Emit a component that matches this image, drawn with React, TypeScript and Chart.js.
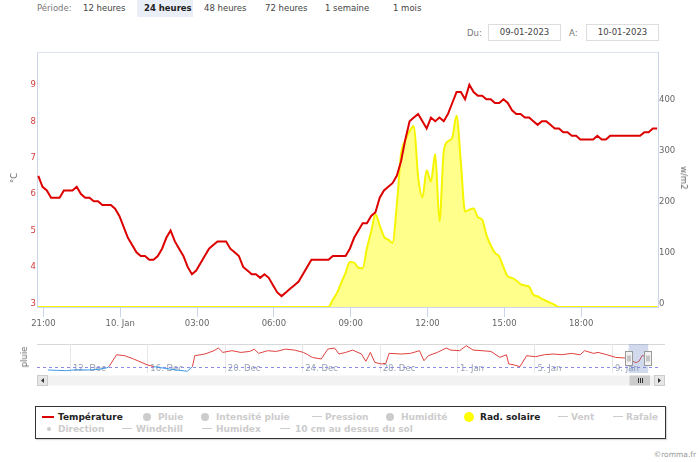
import React, { useEffect, useRef } from 'react';
import { Chart, registerables } from 'chart.js';
Chart.register(...registerables);

// ---- main chart data: 10-minute readings, hours relative to 10 Jan 00:00 ----
const START_HOUR = -3.2;
const STEP_HOURS = 1 / 6;
const TEMPERATURE = [
  6.6, 6.3, 6.2, 6.0, 6.0, 6.0, 6.2, 6.2, 6.2, 6.3,
  6.1, 6.0, 6.0, 5.9, 5.9, 5.8, 5.8, 5.8, 5.7, 5.5,
  5.2, 4.9, 4.7, 4.5, 4.4, 4.4, 4.3, 4.3, 4.4, 4.6,
  4.9, 5.1, 4.8, 4.6, 4.4, 4.1, 3.9, 4.0, 4.2, 4.4,
  4.6, 4.7, 4.8, 4.8, 4.8, 4.6, 4.5, 4.4, 4.1, 4.0,
  3.9, 3.9, 3.8, 3.9, 3.8, 3.6, 3.4, 3.3, 3.4, 3.5,
  3.6, 3.7, 3.9, 4.1, 4.3, 4.3, 4.3, 4.3, 4.3, 4.4,
  4.4, 4.4, 4.4, 4.6, 4.9, 5.1, 5.3, 5.3, 5.5, 5.6,
  6.0, 6.2, 6.3, 6.4, 6.6, 7.0, 7.6, 8.1, 8.2, 8.3,
  8.1, 7.9, 8.2, 8.1, 8.2, 8.1, 8.3, 8.6, 8.9, 8.9,
  8.7, 9.1, 8.9, 8.8, 8.8, 8.7, 8.7, 8.6, 8.6, 8.7,
  8.6, 8.4, 8.3, 8.3, 8.2, 8.2, 8.1, 8.0, 8.1, 8.1,
  8.0, 7.9, 7.9, 7.8, 7.8, 7.7, 7.7, 7.6, 7.6, 7.6,
  7.6, 7.7, 7.6, 7.6, 7.7, 7.7, 7.7, 7.7, 7.7, 7.7,
  7.7, 7.7, 7.8, 7.8, 7.9, 7.9,
];
const RADIATION = [
  0, 0, 0, 0, 0, 0, 0, 0, 0, 0,
  0, 0, 0, 0, 0, 0, 0, 0, 0, 0,
  0, 0, 0, 0, 0, 0, 0, 0, 0, 0,
  0, 0, 0, 0, 0, 0, 0, 0, 0, 0,
  0, 0, 0, 0, 0, 0, 0, 0, 0, 0,
  0, 0, 0, 0, 0, 0, 0, 0, 0, 0,
  0, 0, 0, 0, 0, 0, 0, 0, 0, 14,
  28, 48, 67, 88, 87, 77, 76, 115, 148, 182,
  160, 138, 132, 126, 200, 300, 327, 345, 355, 255,
  215, 268, 246, 300, 168, 305, 325, 332, 375, 285,
  187, 191, 193, 176, 171, 141, 121, 106, 99, 78,
  60, 57, 52, 45, 42, 40, 24, 21, 16, 12,
  8, 4, 0, 0, 0, 0, 0, 0, 0, 0,
  0, 0, 0, 0, 0, 0, 0, 0, 0, 0,
  0, 0, 0, 0, 0, 0,
];
const X_MIN = -3.25;
const X_MAX = 21;
const X_TICKS = [-3, 0, 3, 6, 9, 12, 15, 18];
const X_TICK_LABELS = ['21:00', '10. Jan', '03:00', '06:00', '09:00', '12:00', '15:00', '18:00'];
const TEMP_TICKS = [3, 4, 5, 6, 7, 8, 9];
const RAD_TICKS = [0, 100, 200, 300, 400];

// ---- navigator data: days since 10 Dec 00:00 ----
const NAV_DAYS = [
  0.86, 1.3, 1.83, 2.3, 2.98, 3.5, 3.9, 4.02, 4.41, 4.83, 5.29, 5.98, 6.33, 7.14, 8.06, 8.33,
  8.45, 8.98, 9.44, 9.67, 9.9, 10.37, 10.83, 11.29, 11.52, 11.75, 12.21, 12.67, 13.13, 13.6,
  14.06, 14.29, 14.52, 14.98, 15.32, 15.67, 15.9, 16.25, 16.6, 17.06, 17.29, 17.52, 17.75,
  18.09, 18.32, 18.49, 19.13, 19.59, 20.06, 20.29, 20.52, 20.98, 21.44, 21.67, 22.13, 22.48,
  22.83, 23.29, 23.75, 24.21, 24.55, 24.67, 24.9, 25.25, 25.59, 26.05, 26.51, 26.97, 27.43,
  27.9, 28.36, 28.59, 29.05, 29.28, 29.74, 30.2, 30.67, 30.88, 31.05, 31.25, 31.4, 31.56, 31.87,
];
const NAV_TEMPS = [
  -2.7, -3.0, -3.3, -2.5, -2.7, -2.2, -1.0, 0, 9.8, 9.0, 6.3, 1.6, 0, -1.9, -3.8, 0,
  9.0, 10.4, 13.1, 15.3, 11.7, 13.1, 11.7, 12.5, 14.4, 10.9, 13.1, 12.5, 14.4, 13.6,
  11.7, 9.8, 7.6, 6.3, 14.4, 15.3, 10.4, 11.7, 13.6, 10.4, 4.4, 11.7, 3.5,
  2.2, 2.7, 10.9, 10.4, 10.9, 13.1, 4.9, 9.0, 11.7, 15.3, 13.6, 13.1, 17.2,
  13.6, 13.1, 12.5, 7.6, 9.8, 2.2, 1.6, 0, 9.0, 8.2, 9.8, 10.4, 9.8,
  10.9, 9.8, 13.1, 10.9, 11.7, 9.8, 7.6, 7.1, 6.5, 4.5, 3.3, 4.5, 9.1, 7.9,
];
const NAV_MIN = 0.3;
const NAV_MAX = 32.38;
const NAV_SEL_START = 30.865;
const NAV_SEL_END = 31.875;
const NAV_TICK_DAYS = [2, 6, 10, 14, 18, 22, 26, 30];
const NAV_TICK_LABELS = ['12. Dec', '16. Dec', '20. Dec', '24. Dec', '28. Dec', '1. Jan', '5. Jan', '9. Jan'];

// ---- page texts ----
const PERIODS = ['12 heures', '24 heures', '48 heures', '72 heures', '1 semaine', '1 mois'];
const PERIOD_LEFT = [83, 144, 204, 265, 325, 393];
const ACTIVE_PERIOD = 1;
const DATE_FROM = '09-01-2023';
const DATE_TO = '10-01-2023';

type LegendItem = { label: string; sym: 'line' | 'circle' | 'dot'; color: string; active: boolean; symX: number; textX: number; row: number };
const LEGEND: LegendItem[] = [
  { label: 'Température', sym: 'line', color: '#dd0000', active: true, symX: 42, textX: 58, row: 0 },
  { label: 'Pluie', sym: 'circle', color: '#cccccc', active: false, symX: 147, textX: 158, row: 0 },
  { label: 'Intensité pluie', sym: 'circle', color: '#cccccc', active: false, symX: 205, textX: 216, row: 0 },
  { label: 'Pression', sym: 'line', color: '#cccccc', active: false, symX: 312, textX: 325, row: 0 },
  { label: 'Humidité', sym: 'circle', color: '#cccccc', active: false, symX: 390, textX: 401, row: 0 },
  { label: 'Rad. solaire', sym: 'circle', color: '#ffff00', active: true, symX: 469, textX: 480, row: 0 },
  { label: 'Vent', sym: 'line', color: '#cccccc', active: false, symX: 558, textX: 571, row: 0 },
  { label: 'Rafale', sym: 'line', color: '#cccccc', active: false, symX: 613, textX: 626, row: 0 },
  { label: 'Direction', sym: 'dot', color: '#cccccc', active: false, symX: 49, textX: 58, row: 1 },
  { label: 'Windchill', sym: 'line', color: '#cccccc', active: false, symX: 122, textX: 136, row: 1 },
  { label: 'Humidex', sym: 'line', color: '#cccccc', active: false, symX: 202, textX: 216, row: 1 },
  { label: '10 cm au dessus du sol', sym: 'line', color: '#cccccc', active: false, symX: 280, textX: 295, row: 1 },
];

const FONT = '"DejaVu Sans", Verdana, sans-serif';

export default function App() {
  const mainRef = useRef<HTMLCanvasElement>(null);
  const navRef = useRef<HTMLCanvasElement>(null);

  useEffect(() => {
    const tempData = TEMPERATURE.map((v, i) => ({ x: START_HOUR + i * STEP_HOURS, y: v }));
    const radData = RADIATION.map((v, i) => ({ x: START_HOUR + i * STEP_HOURS, y: v }));
    const axisColor = '#ccd6eb';
    const tickFont = { family: FONT, size: 8.5 };

    const frame = {
      id: 'frame',
      afterDraw(chart: any) {
        const { ctx, chartArea: a } = chart;
        ctx.save();
        ctx.strokeStyle = '#dde3ea';
        ctx.lineWidth = 1;
        ctx.beginPath();
        ctx.moveTo(a.left, a.top + 0.5);
        ctx.lineTo(a.right, a.top + 0.5);
        ctx.stroke();
        ctx.restore();
      },
    };

    const main = new Chart(mainRef.current!, {
      type: 'line',
      data: {
        datasets: [
          {
            label: 'Température', data: tempData, yAxisID: 'y', borderColor: '#dd0000', borderWidth: 2,
            pointRadius: 0, tension: 0, fill: false,
          },
          {
            label: 'Rad. solaire', data: radData, yAxisID: 'y2', borderColor: '#f5f500',
            backgroundColor: 'rgba(255,255,0,0.45)', borderWidth: 2, pointRadius: 0,
            fill: 'origin', cubicInterpolationMode: 'monotone',
          },
        ] as any,
      },
      options: {
        animation: false, responsive: false, events: [],
        layout: { padding: { top: 52, left: 0, right: 0, bottom: 0 } },
        plugins: { legend: { display: false }, tooltip: { enabled: false } },
        scales: {
          x: {
            type: 'linear', min: X_MIN, max: X_MAX,
            afterBuildTicks: (s: any) => { s.ticks = X_TICKS.map((v) => ({ value: v })); },
            afterFit: (s: any) => { s.height = 33; },
            grid: { drawOnChartArea: false, drawTicks: true, tickLength: 10, color: axisColor },
            border: { color: axisColor },
            ticks: {
              autoSkip: false, maxRotation: 0, padding: 2, color: '#666', font: tickFont,
              callback: (v: any) => { const k = X_TICKS.indexOf(Number(v)); return k >= 0 ? X_TICK_LABELS[k] : ''; },
            },
          },
          y: {
            position: 'left', min: 3, max: 10,
            afterBuildTicks: (s: any) => { s.ticks = TEMP_TICKS.map((v) => ({ value: v })); },
            afterFit: (s: any) => { s.width = 37; },
            grid: { display: false, drawTicks: false },
            border: { display: true, color: axisColor },
            ticks: { color: '#d23c3c', padding: 1, labelOffset: -3.5, font: tickFont },
          },
          y2: {
            position: 'right', min: 0, max: 500,
            afterBuildTicks: (s: any) => { s.ticks = RAD_TICKS.map((v) => ({ value: v })); },
            afterFit: (s: any) => { s.width = 42; },
            grid: { display: false, drawTicks: false },
            border: { display: true, color: axisColor },
            ticks: { color: '#666', padding: 1, labelOffset: -3.5, font: tickFont },
          },
        },
      } as any,
      plugins: [frame],
    });

    const navDecor = {
      id: 'navDecor',
      beforeDatasetsDraw(chart: any) {
        const { ctx, chartArea: a, scales } = chart;
        ctx.save();
        ctx.strokeStyle = '#d8d8d8';
        ctx.lineWidth = 1;
        ctx.beginPath();
        ctx.moveTo(37, a.top + 0.5);
        ctx.lineTo(665, a.top + 0.5);
        ctx.stroke();
        ctx.strokeStyle = '#e6e6e6';
        NAV_TICK_DAYS.forEach((d) => {
          const px = Math.round(scales.x.getPixelForValue(d)) + 0.5;
          ctx.beginPath();
          ctx.moveTo(px, a.top);
          ctx.lineTo(px, a.bottom);
          ctx.stroke();
        });
        ctx.fillStyle = '#99a3b3';
        ctx.font = `8.5px ${FONT}`;
        ctx.textBaseline = 'middle';
        NAV_TICK_DAYS.forEach((d, i) => {
          const px = scales.x.getPixelForValue(d);
          ctx.fillText(NAV_TICK_LABELS[i], px + 3, a.top + 25);
        });
        const y0 = Math.round(scales.y.getPixelForValue(0)) + 0.5;
        ctx.strokeStyle = '#8c8ce6';
        ctx.setLineDash([3, 3]);
        ctx.beginPath();
        ctx.moveTo(a.left, y0);
        ctx.lineTo(a.right, y0);
        ctx.stroke();
        ctx.restore();
      },
      afterDatasetsDraw(chart: any) {
        const { ctx, chartArea: a, scales } = chart;
        const xs = scales.x.getPixelForValue(NAV_SEL_START);
        const xe = scales.x.getPixelForValue(NAV_SEL_END);
        ctx.save();
        ctx.fillStyle = 'rgba(102,133,194,0.3)';
        ctx.fillRect(xs, a.top, xe - xs, a.bottom - a.top);
        const mid = (a.top + a.bottom) / 2;
        [xs, xe].forEach((px) => {
          const hx = Math.round(px) - 3.5;
          ctx.fillStyle = '#f2f2f2';
          ctx.strokeStyle = '#999999';
          ctx.lineWidth = 1;
          ctx.fillRect(hx, mid - 7, 7, 14);
          ctx.strokeRect(hx, mid - 7, 7, 14);
          ctx.beginPath();
          ctx.moveTo(hx + 2.5, mid - 3);
          ctx.lineTo(hx + 2.5, mid + 3);
          ctx.moveTo(hx + 4.5, mid - 3);
          ctx.lineTo(hx + 4.5, mid + 3);
          ctx.stroke();
        });
        // scrollbar
        const sy = 35.5;
        const sh = 10;
        ctx.fillStyle = '#f2f2f2';
        ctx.fillRect(37, sy, 628, sh);
        ctx.fillStyle = '#e6e6e6';
        ctx.strokeStyle = '#cccccc';
        ctx.fillRect(37.5, sy, 10, sh);
        ctx.strokeRect(37.5, sy, 10, sh);
        ctx.fillRect(654.5, sy, 10, sh);
        ctx.strokeRect(654.5, sy, 10, sh);
        ctx.fillStyle = '#333';
        ctx.beginPath();
        ctx.moveTo(44, sy + 2.5); ctx.lineTo(44, sy + 7.5); ctx.lineTo(41, sy + 5); ctx.closePath(); ctx.fill();
        ctx.beginPath();
        ctx.moveTo(658, sy + 2.5); ctx.lineTo(658, sy + 7.5); ctx.lineTo(661, sy + 5); ctx.closePath(); ctx.fill();
        const tx = Math.round(xs) + 0.5;
        const tw = Math.min(Math.round(xe) + 2, 654) - tx;
        ctx.fillStyle = '#cccccc';
        ctx.fillRect(tx, sy, tw, sh);
        ctx.strokeStyle = '#333';
        const cx = Math.round(tx + tw / 2) + 0.5;
        ctx.beginPath();
        [-2, 0, 2].forEach((o) => { ctx.moveTo(cx + o, sy + 2.5); ctx.lineTo(cx + o, sy + 7.5); });
        ctx.stroke();
        ctx.restore();
      },
    };

    const nav = new Chart(navRef.current!, {
      type: 'line',
      data: {
        datasets: [
          {
            data: NAV_DAYS.map((d, i) => ({ x: d, y: NAV_TEMPS[i] })),
            borderColor: '#e04040', borderWidth: 1, pointRadius: 0, tension: 0, fill: false,
            segment: {
              borderColor: (c: any) => (c.p0.parsed.y < 0 || c.p1.parsed.y < 0 ? '#3d9be9' : '#e04040'),
            },
          },
        ] as any,
      },
      options: {
        animation: false, responsive: false, events: [],
        layout: { padding: { left: 37, right: 42, top: 4, bottom: 17 } },
        plugins: { legend: { display: false }, tooltip: { enabled: false } },
        scales: {
          x: { type: 'linear', display: false, min: NAV_MIN, max: NAV_MAX },
          y: { display: false, min: -5.2, max: 18.6 },
        },
      } as any,
      plugins: [navDecor],
    });

    return () => { main.destroy(); nav.destroy(); };
  }, []);

  const abs = (left: number, cy: number, extra: React.CSSProperties = {}): React.CSSProperties => ({
    position: 'absolute', left, top: cy - 6, lineHeight: '12px', whiteSpace: 'nowrap', ...extra,
  });

  return (
    <div style={{ position: 'fixed', left: 0, top: 0, width: 700, height: 462, background: '#fff', overflow: 'hidden', fontFamily: FONT, fontSize: 8.5, color: '#333' }}>
      <span style={abs(37, 7.5, { color: '#777' })}>Période:</span>
      <div style={{ position: 'absolute', left: 137, top: 0, width: 56, height: 17, background: '#e9eef7' }} />
      {PERIODS.map((p, i) => (
        <span key={p} style={abs(PERIOD_LEFT[i], 7.5, { fontWeight: i === ACTIVE_PERIOD ? 'bold' : 'normal', color: i === ACTIVE_PERIOD ? '#222' : '#444' })}>{p}</span>
      ))}

      <span style={abs(467, 32.5, { color: '#777' })}>Du:</span>
      <div style={{ position: 'absolute', left: 488, top: 24, width: 73, height: 17, border: '1px solid #dddddd', boxSizing: 'border-box', textAlign: 'center', lineHeight: '15px', color: '#444' }}>{DATE_FROM}</div>
      <span style={abs(569, 32.5, { color: '#777' })}>A:</span>
      <div style={{ position: 'absolute', left: 586, top: 24, width: 73, height: 17, border: '1px solid #dddddd', boxSizing: 'border-box', textAlign: 'center', lineHeight: '15px', color: '#444' }}>{DATE_TO}</div>

      <canvas ref={mainRef} width={700} height={340} style={{ position: 'absolute', left: 0, top: 0, width: 700, height: 340, display: 'block' }} />
      <div style={{ position: 'absolute', left: 14, top: 178, transform: 'translate(-50%,-50%) rotate(-90deg)', color: '#666', whiteSpace: 'nowrap' }}>°C</div>
      <div style={{ position: 'absolute', left: 684, top: 178, transform: 'translate(-50%,-50%) rotate(90deg)', color: '#666', whiteSpace: 'nowrap' }}>w/m2</div>

      <canvas ref={navRef} width={700} height={50} style={{ position: 'absolute', left: 0, top: 340, width: 700, height: 50, display: 'block' }} />
      <div style={{ position: 'absolute', left: 24, top: 357, transform: 'translate(-50%,-50%) rotate(-90deg)', color: '#666', whiteSpace: 'nowrap' }}>pluie</div>

      <div style={{ position: 'absolute', left: 35, top: 406, width: 631, height: 33, border: '1px solid #333', boxSizing: 'border-box', boxShadow: '1px 1px 1px rgba(0,0,0,0.15)' }} />
      {LEGEND.map((it) => {
        const cy = it.row === 0 ? 416.5 : 429;
        let sym: React.ReactNode = null;
        if (it.sym === 'line') {
          sym = <div style={{ position: 'absolute', left: it.symX, top: cy - 1, width: it.active ? 12 : 10, height: it.active ? 2 : 1, background: it.color }} />;
        } else if (it.sym === 'circle') {
          const r = it.active ? 5 : 4;
          sym = <div style={{ position: 'absolute', left: it.symX - r, top: cy - r, width: 2 * r, height: 2 * r, borderRadius: '50%', background: it.color }} />;
        } else {
          sym = <div style={{ position: 'absolute', left: it.symX - 2, top: cy - 2, width: 4, height: 4, borderRadius: '50%', background: it.color }} />;
        }
        return (
          <React.Fragment key={it.label}>
            {sym}
            <span style={abs(it.textX, cy, { fontWeight: 'bold', fontSize: 9, color: it.active ? '#222' : '#cccccc' })}>{it.label}</span>
          </React.Fragment>
        );
      })}

      <span style={{ position: 'absolute', right: 4, top: 450, lineHeight: '10px', fontSize: 7.5, color: '#999' }}>©romma.fr</span>
    </div>
  );
}
